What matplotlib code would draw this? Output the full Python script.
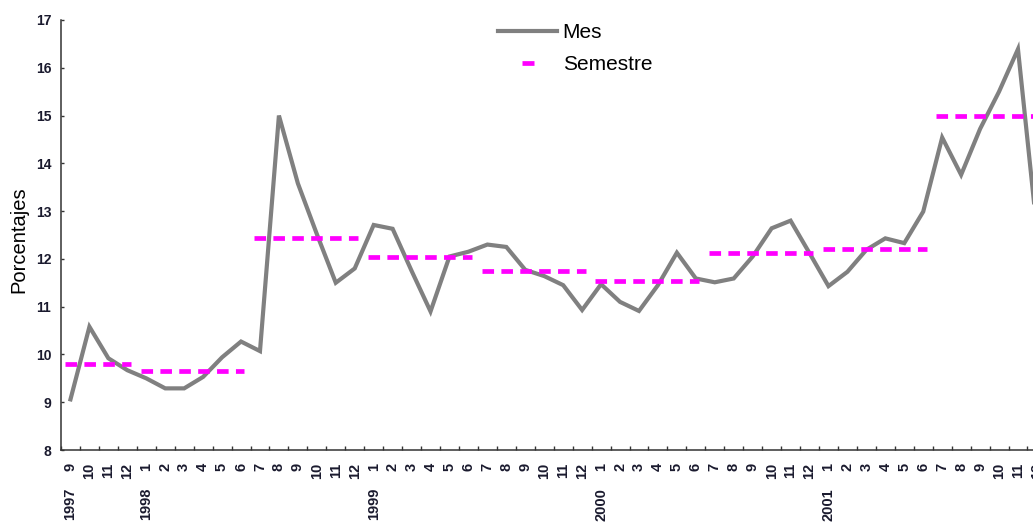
import numpy as np
import pandas as pd
import matplotlib
matplotlib.use("Agg")
import matplotlib.pyplot as plt
import matplotlib.transforms as mtransforms
from matplotlib.lines import Line2D

plt.rcParams['font.family'] = ['Liberation Sans', 'DejaVu Sans']

# Monthly categories, Sep 1997 .. Dec 2001
periods = pd.period_range("1997-09", "2001-12", freq="M")
month_labels = [str(p.month) for p in periods]

# Monthly rate (%)
mes = [9.06, 10.58, 9.92, 9.67,
       9.50, 9.29, 9.29, 9.53, 9.94, 10.27, 10.07, 15.00, 13.58, 12.52, 11.50, 11.80,
       12.71, 12.63, 11.75, 10.90, 12.05, 12.15, 12.30, 12.25, 11.77, 11.64, 11.45, 10.93,
       11.47, 11.10, 10.91, 11.45, 12.13, 11.59, 11.51, 11.59, 12.05, 12.64, 12.80, 12.12,
       11.43, 11.73, 12.19, 12.43, 12.33, 12.99, 14.54, 13.76, 14.72, 15.50, 16.39, 12.60]

# Semester averages (1997-II .. 2001-II)
semestre = [9.81, 9.66, 12.44, 12.03, 11.75, 11.53, 12.13, 12.20, 14.99]

gray = "#808080"
magenta = "#FF00FF"

fig = plt.figure(figsize=(10.33, 5.23), dpi=100)
W, H = 1033, 523
ax = fig.add_axes([61 / W, 73 / H, 985.4 / W, 430 / H])

x = np.arange(len(mes))
ax.plot(x, mes, color=gray, lw=3.0, solid_joinstyle="miter", zorder=3)

# semester segments
half = np.array([(p.year, (p.month - 1) // 6) for p in periods])
keys = []
for k in map(tuple, half):
    if k not in keys:
        keys.append(k)
for val, k in zip(semestre, keys):
    idx = np.where((half[:, 0] == k[0]) & (half[:, 1] == k[1]))[0]
    ax.plot([idx[0] - 0.3, idx[-1] + 0.18], [val, val], color=magenta, lw=3.4,
            linestyle=(0, (2.45, 1.55)), dash_capstyle="butt", zorder=4)

ax.set_xlim(-0.5, len(mes) - 0.5)
ax.set_ylim(8, 17)
ax.set_yticks(range(8, 18))
ax.tick_params(axis="y", direction="in", length=2.5, width=1, pad=7, labelsize=10,
               color="#333333")
for lab in ax.get_yticklabels():
    lab.set_fontweight("bold")
    lab.set_color("#1a1a2e")

ax.set_xticks(x)
ax.set_xticklabels(month_labels, rotation=90, fontsize=10.5, va="top",
                   fontweight="bold", color="#1a1a2e")
ax.set_xticks(np.arange(-0.5, len(mes)), minor=True)
ax.tick_params(axis="x", which="major", length=0, pad=9.5)
ax.tick_params(axis="x", which="minor", direction="in", length=3, width=1, color="#333333")

trans = mtransforms.blended_transform_factory(ax.transData, ax.transAxes)
for i, p in enumerate(periods):
    if i == 0 or p.month == 1:
        ax.text(i, -38 / 430, str(p.year), transform=trans, rotation=90,
                ha="center", va="top", fontsize=10.5, fontweight="bold", color="#1a1a2e")

for s in ["top", "right"]:
    ax.spines[s].set_visible(False)
for s in ["left", "bottom"]:
    ax.spines[s].set_color("#333333")
    ax.spines[s].set_linewidth(1.1)

fig.text(19 / W, 1 - 240 / H, "Porcentajes", rotation=90, ha="center", va="center",
         fontsize=14.5)

handles = [Line2D([], [], color=gray, lw=3.0),
           Line2D([], [], linestyle="none", marker="_", markersize=8,
                  markeredgewidth=3.4, color=magenta)]
ax.legend(handles, ["Mes", "Semestre"], loc="upper left",
          bbox_to_anchor=(498 / W, 1 - 23.5 / H), bbox_transform=fig.transFigure,
          frameon=False, fontsize=15, handlelength=2.85, handletextpad=0.25,
          borderpad=0, borderaxespad=0, labelspacing=0.6, numpoints=1)

fig.savefig("out.png", dpi=100)
